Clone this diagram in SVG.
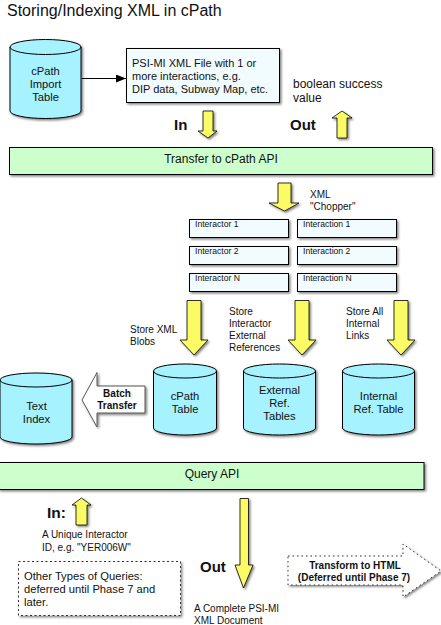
<svg xmlns="http://www.w3.org/2000/svg" width="441" height="625" viewBox="0 0 441 625">
<style>
text{font-family:"Liberation Sans",Arial,sans-serif;fill:#111}
.c{text-anchor:middle}
.b{font-weight:bold}
.cyl{fill:#a6f2ff;stroke:#000;stroke-width:1}
.band{fill:#ccffcc;stroke:#000;stroke-width:1}
.box{fill:#f2fcff;stroke:#000;stroke-width:1}
.y{fill:#fbfb66;stroke:#000;stroke-width:.8}
.s{filter:url(#sh)}
.t10{font-size:10px}
.t11{font-size:11.2px}
.t12{font-size:12px}
.t9{font-size:8.6px}
.line{stroke:#000;stroke-width:1;fill:none}
</style>
<defs>
<filter id="sh" x="-15%" y="-15%" width="130%" height="130%"><feDropShadow dx="1.5" dy="1.5" stdDeviation="1" flood-color="#000" flood-opacity=".5"/></filter>
<marker id="ah" viewBox="0 0 10 8" refX="10" refY="4" markerWidth="10" markerHeight="8" orient="auto" markerUnits="userSpaceOnUse"><path d="M0 0L10 4L0 8Z" fill="#000"/></marker>
</defs>
<text x="7" y="16" font-size="16">Storing/Indexing XML in cPath</text>

<g id="connectors">
<path class="line" d="M82 78.500H126" marker-end="url(#ah)"/>
</g>

<g id="import-table"><path class="cyl s" d="M10 47V111A35.500 7.500 0 0 0 81 111V47A35.500 7.500 0 0 0 10 47ZM10 47A35.500 7.500 0 0 0 81 47"/>
<text class="t11 c" x="45.500" y="75">cPath</text><text class="t11 c" x="45.500" y="88">Import</text><text class="t11 c" x="45.500" y="101">Table</text></g>

<g id="psi-file"><rect class="box s" x="126.500" y="48.500" width="153" height="54"/>
<text font-size="11" x="132" y="67">PSI-MI XML File with 1 or</text><text font-size="11" x="132" y="80">more  interactions, e.g.</text><text font-size="11" x="132" y="93">DIP data, Subway Map, etc.</text></g>

<g id="in-top"><text class="b" font-size="15" x="174" y="130">In</text><path class="y s" d="M203 111H213V131H217L208 138L198 131H203Z"/></g>
<g id="out-top"><text class="b" font-size="15" x="290" y="130">Out</text><path class="y s" d="M337 138H347V118H352L342 111L332 118H337Z"/></g>
<g id="success"><text class="t12" x="293" y="88">boolean success</text><text class="t12" x="293" y="102">value</text></g>

<g id="transfer-api"><rect class="band s" x="9.500" y="147.500" width="423" height="27"/><text class="t12 c" x="221" y="163">Transfer to cPath API</text></g>

<g id="chopper"><path class="y s" d="M278 183H291V203H299L284.500 211L269 203H278Z"/><text class="t10" x="310" y="198">XML</text><text class="t10" x="310" y="210">"Chopper"</text></g>

<g id="interactor-1"><rect class="box s" x="189.500" y="219.500" width="99" height="18"/><text class="t9" x="195" y="227">Interactor 1</text></g>
<g id="interactor-2"><rect class="box s" x="189.500" y="246.500" width="99" height="18"/><text class="t9" x="195" y="254">Interactor 2</text></g>
<g id="interactor-n"><rect class="box s" x="189.500" y="273.500" width="99" height="18"/><text class="t9" x="195" y="281">Interactor N</text></g>
<g id="interaction-1"><rect class="box s" x="297.500" y="219.500" width="99" height="18"/><text class="t9" x="303" y="227">Interaction 1</text></g>
<g id="interaction-2"><rect class="box s" x="297.500" y="246.500" width="99" height="18"/><text class="t9" x="303" y="254">Interaction 2</text></g>
<g id="interaction-n"><rect class="box s" x="297.500" y="273.500" width="99" height="18"/><text class="t9" x="303" y="281">Interaction N</text></g>

<g id="store-blobs"><path class="y s" d="M187 300.500H201V340H208L194 355L180 340H187Z"/><text class="t10" x="130" y="333">Store XML</text><text class="t10" x="130" y="345">Blobs</text></g>
<g id="store-ext"><path class="y s" d="M295 300.500H309V340H316L302 355L288 340H295Z"/><text class="t10" x="229" y="315">Store</text><text class="t10" x="229" y="327">Interactor</text><text class="t10" x="229" y="339">External</text><text class="t10" x="229" y="351">References</text></g>
<g id="store-int"><path class="y s" d="M394 300.500H408V340H415L401 355L387 340H394Z"/><text class="t10" x="346" y="315">Store All</text><text class="t10" x="346" y="327">Internal</text><text class="t10" x="346" y="339">Links</text></g>

<g id="cpath-table"><path class="cyl s" d="M153.500 371V428A31.500 7 0 0 0 216.500 428V371A31.500 7 0 0 0 153.500 371ZM153.500 371A31.500 7 0 0 0 216.500 371"/><text class="t11 c" x="185" y="400">cPath</text><text class="t11 c" x="185" y="413">Table</text></g>
<g id="external-tables"><path class="cyl s" d="M243.500 371V428A36 7 0 0 0 315.500 428V371A36 7 0 0 0 243.500 371ZM243.500 371A36 7 0 0 0 315.500 371"/><text class="t11 c" x="279.500" y="394">External</text><text class="t11 c" x="279.500" y="407">Ref.</text><text class="t11 c" x="279.500" y="420">Tables</text></g>
<g id="internal-table"><path class="cyl s" d="M342.500 371V428A36 7 0 0 0 414.500 428V371A36 7 0 0 0 342.500 371ZM342.500 371A36 7 0 0 0 414.500 371"/><text class="t11 c" x="378.500" y="400">Internal</text><text class="t11 c" x="378.500" y="413">Ref. Table</text></g>
<g id="text-index"><path class="cyl s" d="M0 380V437A36 7 0 0 0 72 437V380A36 7 0 0 0 0 380ZM0 380A36 7 0 0 0 72 380"/><text class="t11 c" x="36.500" y="410">Text</text><text class="t11 c" x="36.500" y="423">Index</text></g>

<g id="batch-transfer"><path class="s" d="M82 400L97 372.500V386H145V413H97V427Z" fill="#fff" stroke="#555" stroke-width="1"/><text class="b c" font-size="10" x="117" y="397">Batch</text><text class="b c" font-size="10" x="117" y="409">Transfer</text></g>

<g id="query-api"><rect class="band s" x="-1" y="462.500" width="425" height="27"/><text class="t12 c" x="212" y="478">Query API</text></g>

<g id="in-bottom"><text class="b" font-size="15.500" x="47" y="518">In:</text><path class="y s" d="M76 525H87V505H91L81.500 498L72 505H76Z"/></g>
<g id="unique-id"><text class="t10" x="42" y="538">A Unique Interactor</text><text class="t10" x="42" y="551">ID, e.g. "YER006W"</text></g>
<g id="other-queries"><rect class="s" x="18.500" y="561.500" width="162" height="54" fill="#fff" stroke="#333" stroke-width="1" stroke-dasharray="2 2.500"/><text class="t11" x="24" y="580">Other Types of Queries:</text><text class="t11" x="24" y="593">deferred until Phase 7 and</text><text class="t11" x="24" y="606">later.</text></g>
<g id="out-bottom"><text class="b" font-size="15" x="200" y="572">Out</text><path class="y s" d="M240 498.500H248.500V565H253L243.500 588L235 565H240Z"/></g>
<g id="complete-doc"><text class="t10" x="194" y="612">A Complete PSI-MI</text><text class="t10" x="194" y="624">XML Document</text></g>
<g id="transform-html"><path class="s" d="M288 556H403V544L441 571L403 597V585H288Z" fill="#fff" stroke="#333" stroke-width="1" stroke-dasharray="1.500 3"/><text class="b c" font-size="10" x="355" y="569">Transform to HTML</text><text class="b c" font-size="10" x="354" y="581">(Deferred until Phase 7)</text></g>
</svg>
